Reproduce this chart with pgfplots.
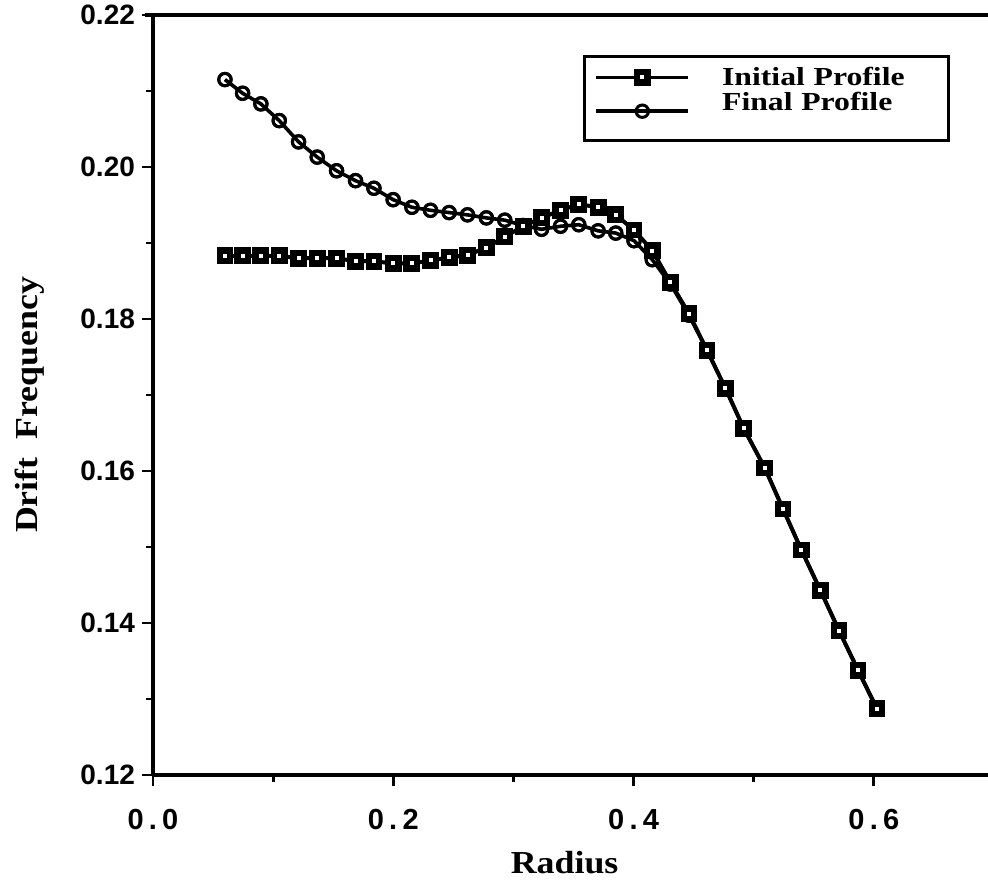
\documentclass[border=0pt]{standalone}
\usepackage{fontspec}
\setmainfont{Liberation Serif}
\setsansfont{Liberation Sans}
\newfontfamily\labfont[FakeStretch=1.12]{Liberation Serif}
\newfontfamily\legfont[FakeStretch=1.22]{Liberation Serif}
\newfontfamily\xtfont[LetterSpace=18]{Liberation Sans}
\usepackage{pgfplots}
\usepackage{pgfplotstable}
\pgfplotsset{compat=1.18}

\pgfplotstableread{
x y
0.0599 0.1883
0.0746 0.1883
0.0898 0.1883
0.1051 0.1883
0.1212 0.1880
0.1367 0.1880
0.1528 0.1880
0.1686 0.1876
0.1839 0.1876
0.1999 0.1873
0.2155 0.1873
0.2310 0.1877
0.2465 0.1881
0.2618 0.1884
0.2775 0.1894
0.2928 0.1908
0.3081 0.1922
0.3234 0.1933
0.3392 0.1943
0.3544 0.1951
0.3705 0.1947
0.3852 0.1937
0.4004 0.1917
0.4156 0.1890
0.4307 0.1848
0.4461 0.1807
0.4611 0.1759
0.4764 0.1709
0.4917 0.1656
0.5092 0.1604
0.5244 0.1550
0.5397 0.1496
0.5555 0.1443
0.5710 0.1390
0.5868 0.1338
0.6026 0.1287
}\initialtab

\pgfplotstableread{
x y
0.0599 0.2115
0.0746 0.2097
0.0898 0.2083
0.1051 0.2061
0.1212 0.2033
0.1367 0.2013
0.1528 0.1995
0.1686 0.1982
0.1839 0.1972
0.1999 0.1957
0.2155 0.1947
0.2310 0.1943
0.2465 0.1940
0.2618 0.1937
0.2775 0.1933
0.2928 0.1930
0.3081 0.1923
0.3234 0.1918
0.3392 0.1922
0.3544 0.1924
0.3705 0.1916
0.3852 0.1913
0.4004 0.1903
0.4156 0.1878
0.4307 0.1846
0.4461 0.1805
0.4611 0.1759
0.4764 0.1709
0.4917 0.1656
0.5092 0.1604
0.5244 0.1550
0.5397 0.1496
0.5555 0.1443
0.5710 0.1390
0.5868 0.1338
0.6026 0.1287
}\finaltab

\begin{document}
\begin{tikzpicture}
\begin{axis}[
  scale only axis,
  width=417.5pt, height=380pt,
  xmin=0, xmax=0.695, ymin=0.12, ymax=0.22,
  axis x line*=bottom, axis y line*=left,
  axis line style={line width=2pt},
  xtick={0,0.2,0.4,0.6},
  minor xtick={0.1,0.3,0.5},
  ytick={0.12,0.14,0.16,0.18,0.20,0.22},
  minor ytick={0.13,0.15,0.17,0.19,0.21},
  tick align=outside,
  major tick length=5.5pt,
  minor tick length=3.5pt,
  every tick/.style={black, line width=1.4pt},
  /pgf/number format/assume math mode=true,
  xticklabel={\pgfmathprintnumber[fixed,fixed zerofill,precision=1]{\tick}},
  yticklabel={\pgfmathprintnumber[fixed,fixed zerofill,precision=2]{\tick}},
  scaled ticks=false,
  yticklabel style={font=\fontsize{14}{16}\selectfont\sffamily\bfseries},
  xticklabel style={font=\fontsize{14.5}{16}\selectfont\xtfont\bfseries, yshift=-8pt},
  xlabel={\labfont\bfseries\fontsize{16}{18}\selectfont Radius},
  xlabel style={at={(rel axis cs:0.493,-0.1158)}, anchor=center},
  ylabel={\labfont\bfseries\fontsize{16}{18}\selectfont Drift\ \ Frequency},
  ylabel style={at={(rel axis cs:-0.1473,0.487)}, anchor=center, rotate=0},
  clip=false,
  legend style={at={(rel axis cs:0.515,0.947)}, anchor=north west,
    draw=black, line width=1.5pt, inner xsep=5pt, inner ysep=3pt,
    font=\legfont\bfseries\fontsize{13}{13}\selectfont,
    nodes={text width=106pt}, row sep=-2pt, column sep=14pt},
  legend cell align=left,
  legend image code/.code={%
    \draw[#1, line width=1.8pt] (0pt,0pt) -- (46pt,0pt);
    \draw[#1, mark repeat=1] plot coordinates {(23pt,0pt)};},
]
\addplot[black, line width=1.8pt, mark=o,
  mark options={fill=white, draw=black, line width=1.5pt, solid}, mark size=3.1pt, forget plot]
  table[x=x,y=y] {\finaltab};
\addplot[black, line width=2pt, mark=square*,
  mark options={fill=white, draw=black, line width=3.2pt, solid}, mark size=2.6pt]
  table[x=x,y=y] {\initialtab};
\addlegendentry{Initial Profile}
\addplot[black, line width=1.8pt, mark=o,
  mark options={fill=white, draw=black, line width=1.5pt, solid}, mark size=3.1pt, only marks, forget plot]
  table[x=x,y=y] {\finaltab};
\addlegendimage{black, line width=1.8pt, mark=o,
  mark options={fill=white, draw=black, line width=1.5pt, solid}, mark size=3.1pt}
\addlegendentry[text depth=10pt]{Final Profile}
\addplot[black, line width=2pt, mark=square*, only marks,
  mark options={fill=white, draw=black, line width=3.2pt, solid}, mark size=2.6pt, forget plot]
  table[x=x,y=y] {\initialtab};
\draw[line width=2pt] (rel axis cs:-0.01,1) -- (rel axis cs:1,1);
\coordinate (bbl) at (rel axis cs:-0.1832,-0.1461);
\coordinate (btr) at (rel axis cs:1,1.0197);
\end{axis}
\pgfresetboundingbox
\path (bbl) rectangle (btr);
\end{tikzpicture}
\end{document}
